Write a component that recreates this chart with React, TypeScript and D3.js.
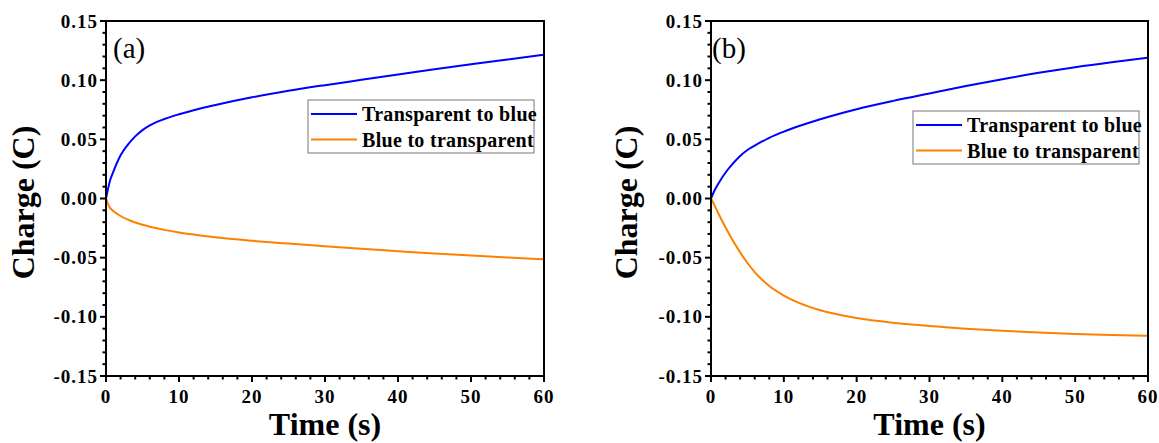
import { useEffect, useRef } from 'react'
import * as d3 from 'd3'

const time = [0, 0.5, 1, 2, 3, 4, 5, 6, 8, 10, 12, 15, 20, 25, 30, 35, 40, 45, 50, 55, 60]

// panel (a)
const aColoring = [0, 0.014, 0.0225, 0.0365, 0.0455, 0.0525, 0.0578, 0.0618, 0.0672, 0.0712, 0.0746, 0.079, 0.0855, 0.091, 0.0958, 0.1003, 0.1048, 0.1092, 0.1134, 0.1175, 0.1215]
const aBleaching = [0, -0.0075, -0.0105, -0.0148, -0.0179, -0.0203, -0.0222, -0.0238, -0.0265, -0.0287, -0.0305, -0.0328, -0.0357, -0.0381, -0.0403, -0.0425, -0.0445, -0.0465, -0.0482, -0.0499, -0.0514]

// panel (b)
const bColoring = [0, 0.007, 0.0125, 0.022, 0.0295, 0.036, 0.041, 0.0447, 0.0513, 0.0565, 0.061, 0.067, 0.0755, 0.0825, 0.0888, 0.095, 0.1008, 0.1062, 0.111, 0.1152, 0.119]
const bBleaching = [0, -0.006, -0.0125, -0.0245, -0.0355, -0.0455, -0.0545, -0.0622, -0.074, -0.082, -0.088, -0.0945, -0.101, -0.105, -0.1078, -0.11, -0.1118, -0.1133, -0.1145, -0.1154, -0.116]

const seriesNames = ['Transparent to blue', 'Blue to transparent']
const seriesColors = ['#0000ff', '#ff8000']
const xTicks = [0, 10, 20, 30, 40, 50, 60]
const yTicks = [-0.15, -0.1, -0.05, 0, 0.05, 0.1, 0.15]

const FONT = '"Liberation Serif", "Times New Roman", serif'

export default function App() {
  const svgRef = useRef(null)

  useEffect(() => {
    const svg = d3.select(svgRef.current)
    svg.selectAll('*').remove()

    const panels = [
      { left: 106, right: 544, label: '(a)', labelX: 113, legend: { x: 308, y: 100 }, yLabelX: 34, data: [aColoring, aBleaching] },
      { left: 711, right: 1148, label: '(b)', labelX: 712, legend: { x: 913, y: 111 }, yLabelX: 637, data: [bColoring, bBleaching] },
    ]
    const top = 21
    const bottom = 376

    panels.forEach(p => {
      const g = svg.append('g')
      const x = d3.scaleLinear().domain([0, 60]).range([p.left, p.right])
      const y = d3.scaleLinear().domain([-0.15, 0.15]).range([bottom, top])

      // curves
      p.data.forEach((vals, i) => {
        const line = d3.line<number>()
          .x((_, j) => x(time[j]))
          .y(d => y(d))
          .curve(d3.curveMonotoneX)
        g.append('path')
          .attr('d', line(vals))
          .attr('fill', 'none')
          .attr('stroke', seriesColors[i])
          .attr('stroke-width', 2)
      })

      // frame
      g.append('rect')
        .attr('x', p.left).attr('y', top)
        .attr('width', p.right - p.left).attr('height', bottom - top)
        .attr('fill', 'none').attr('stroke', '#000').attr('stroke-width', 2)

      // y ticks
      d3.range(-15, 16).forEach(k => {
        const major = k % 5 === 0
        g.append('line')
          .attr('x1', p.left).attr('x2', p.left - (major ? 6 : 3.5))
          .attr('y1', y(k / 100)).attr('y2', y(k / 100))
          .attr('stroke', '#000').attr('stroke-width', 2)
      })
      yTicks.forEach(v => {
        g.append('text')
          .attr('x', p.left - 8).attr('y', y(v))
          .attr('dy', '0.35em')
          .attr('text-anchor', 'end')
          .attr('font-family', FONT).attr('font-weight', 'bold').attr('font-size', 19)
          .attr('letter-spacing', 1)
          .text(d3.format('.2f')(v).replace('−', '-'))
      })

      // x ticks
      d3.range(0, 61, 2).forEach(t => {
        const major = t % 10 === 0
        g.append('line')
          .attr('x1', x(t)).attr('x2', x(t))
          .attr('y1', bottom).attr('y2', bottom + (major ? 6 : 3.5))
          .attr('stroke', '#000').attr('stroke-width', 2)
      })
      xTicks.forEach(t => {
        g.append('text')
          .attr('x', x(t)).attr('y', 403)
          .attr('text-anchor', 'middle')
          .attr('font-family', FONT).attr('font-weight', 'bold').attr('font-size', 19)
          .attr('letter-spacing', 1)
          .text(t)
      })

      // axis titles
      g.append('text')
        .attr('x', (p.left + p.right) / 2).attr('y', 435)
        .attr('text-anchor', 'middle')
        .attr('font-family', FONT).attr('font-weight', 'bold').attr('font-size', 32)
        .text('Time (s)')
      g.append('text')
        .attr('transform', `translate(${p.yLabelX},${(top + bottom) / 2 + 4}) rotate(-90)`)
        .attr('text-anchor', 'middle')
        .attr('font-family', FONT).attr('font-weight', 'bold').attr('font-size', 32)
        .text('Charge (C)')

      // panel label
      g.append('text')
        .attr('x', p.labelX).attr('y', 58)
        .attr('font-family', FONT).attr('font-size', 29)
        .text(p.label)

      // legend
      const lg = g.append('g').attr('transform', `translate(${p.legend.x},${p.legend.y})`)
      lg.append('rect')
        .attr('width', 226).attr('height', 53)
        .attr('fill', '#fff').attr('stroke', '#777').attr('stroke-width', 1)
      seriesNames.forEach((name, i) => {
        const cy = 14 + i * 25.5
        lg.append('line')
          .attr('x1', 3).attr('x2', 49)
          .attr('y1', cy).attr('y2', cy)
          .attr('stroke', seriesColors[i]).attr('stroke-width', 2)
        lg.append('text')
          .attr('x', 54).attr('y', cy + 7)
          .attr('font-family', FONT).attr('font-weight', 'bold').attr('font-size', 20)
          .attr('letter-spacing', 0.3)
          .text(name)
      })
    })
  }, [])

  return (
    <svg ref={svgRef} width={1159} height={443} style={{ position: 'absolute', left: 0, top: 0, background: '#fff' }} />
  )
}
